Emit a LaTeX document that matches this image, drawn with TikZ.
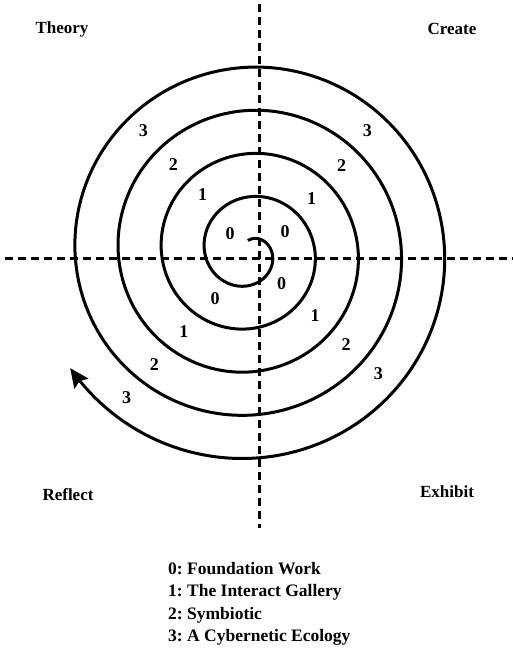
\documentclass[tikz,border=0pt]{standalone}
\usepackage{fontspec}
\setmainfont{Liberation Serif}
\usepackage{tikz}
\usetikzlibrary{arrows.meta, positioning}
\frenchspacing

\tikzset{
  axis/.style={line width=3pt, dash pattern=on 8pt off 5pt},
  spiral/.style={line width=3pt, line join=round},
  lbl/.style={font=\fontsize{17}{20}\selectfont\bfseries, inner sep=1pt},
  num/.style={font=\fontsize{18}{20}\selectfont\bfseries, inner sep=1pt},
}

\begin{document}
\begin{tikzpicture}[x=1pt, y=1pt, >={Stealth[length=19pt, width=17pt, inset=3pt]}]
    \useasboundingbox (-259,259) rectangle (254,-393);

    % quadrant axes
    \draw[axis] (0,255) -- (0,-269);
    \draw[axis] (-254,0) -- (254,0);

    % the spiral, out from the centre and round four times
    \draw[spiral, ->] plot[domain=-455:1227, samples=500, variable=\t, smooth]
        ({-10+(66+0.12*\t)*cos(\t)}, {7-(66+0.12*\t)*sin(\t)});

    % quadrant names
    \node[lbl] (theory)  at (-197,230) {Theory};
    \node[lbl] (create)  at (193,230)  {Create};
    \node[lbl] (reflect) at (-191,-236) {Reflect};
    \node[lbl] (exhibit) at (188,-233) {Exhibit};

    % turn numbers
    \node[num] (tl0) at (-29,25.7)    {0};
    \node[num] (tr0) at (26,27.3)     {0};
    \node[num] (br0) at (22.7,-25)    {0};
    \node[num] (bl0) at (-44,-39.3)   {0};
    \node[num] (tl1) at (-56.3,64)    {1};
    \node[num] (tr1) at (52.7,60.7)   {1};
    \node[num] (br1) at (56,-57)      {1};
    \node[num] (bl1) at (-75,-72.7)   {1};
    \node[num] (tl2) at (-85.7,94)    {2};
    \node[num] (tr2) at (82.7,93)     {2};
    \node[num] (br2) at (87,-86)      {2};
    \node[num] (bl2) at (-104.7,-106) {2};
    \node[num] (tl3) at (-115.7,128.3) {3};
    \node[num] (tr3) at (108.3,128.3)  {3};
    \node[num] (br3) at (119.3,-115)   {3};
    \node[num] (bl3) at (-132.3,-138.3) {3};

    % key
    \node[lbl, anchor=west, align=left, inner sep=0pt, font=\fontsize{17.5}{22.5}\selectfont\bfseries]
        (key) at (-91,-345) {0: Foundation Work\\1: The Interact Gallery\\2: Symbiotic\\3: A Cybernetic Ecology};
\end{tikzpicture}
\end{document}
